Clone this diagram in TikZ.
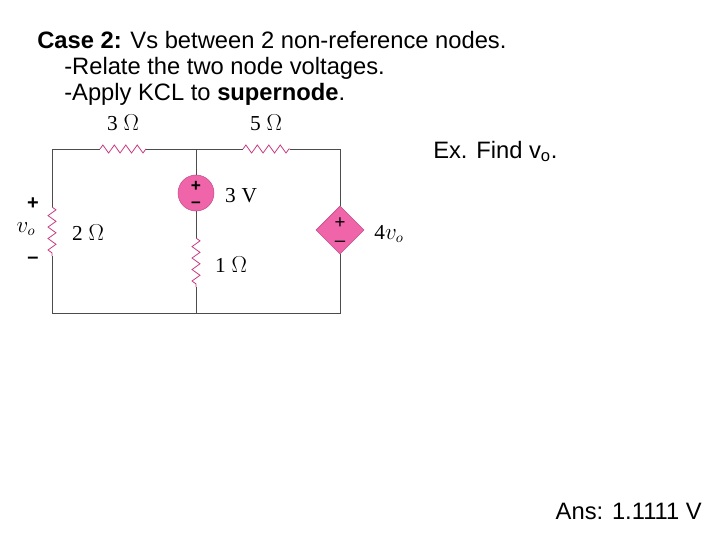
\documentclass[tikz,border=0pt]{standalone}
\usepackage{fontspec}
\setmainfont{Liberation Sans}
\newfontfamily\circfont{Liberation Serif}
\usetikzlibrary{decorations.pathmorphing,shapes.geometric}
\definecolor{pinkfill}{RGB}{240,100,170}
\definecolor{resred}{RGB}{200,60,130}
\begin{document}
\begin{tikzpicture}[x=0.75pt,y=-0.75pt,
    wire/.style={draw=black!70, line width=0.6pt},
    res/.style={draw=resred, line width=0.6pt, decorate,
        decoration={zigzag, amplitude=3pt, segment length=8.6pt}},
    lbl/.style={font=\circfont\fontsize{16}{18}\selectfont, inner sep=1pt},
    sign/.style={font=\bfseries\fontsize{15}{15}\selectfont, inner sep=0pt, text height=1.2ex, text depth=0pt},
    txt/.style={font=\fontsize{17.8}{20}\selectfont, anchor=base west, inner sep=0pt}]
    \useasboundingbox (0,0) rectangle (720,540);
    % texts
    \node[txt] (title) at (37,48) {\textbf{Case 2:} Vs between 2 non-reference nodes.};
    \node[txt] (line1) at (64,74) {-Relate the two node voltages.};
    \node[txt] (line2) at (64,100) {-Apply KCL to \textbf{supernode}.};
    \node[txt] (ex) at (433,158) {Ex. Find v\textsubscript{o}.};
    \node[txt, anchor=base east] (ans) at (702,519) {Ans: 1.1111 V};
    % circuit corners
    \coordinate (tl) at (52,149);
    \coordinate (tm) at (196,149);
    \coordinate (tr) at (340,149);
    \coordinate (bl) at (52,313);
    \coordinate (bm) at (196,313);
    \coordinate (br) at (340,313);
    % resistor ends
    \coordinate (r3a) at (100,149); \coordinate (r3b) at (146,149);
    \coordinate (r5a) at (243,149); \coordinate (r5b) at (290,149);
    \coordinate (r2a) at (52,207);  \coordinate (r2b) at (52,256);
    \coordinate (r1a) at (196,238); \coordinate (r1b) at (196,287);
    % sources
    \node[circle, fill=pinkfill, draw=pinkfill!80!black, minimum size=36*0.75pt, inner sep=0pt] (vs) at (196,193) {};
    \node[sign, font=\bfseries\fontsize{13}{13}\selectfont] at (196,187) {+};
    \node[sign, font=\bfseries\fontsize{13}{13}\selectfont] at (196,203) {--};
    \node[diamond, fill=pinkfill, draw=pinkfill!80!black, minimum size=48*0.75pt, inner sep=0pt] (dep) at (340,230) {};
    \node[sign, font=\fontsize{14}{14}\selectfont] at (340,224) {+};
    \node[sign, font=\fontsize{14}{14}\selectfont] at (340,242) {--};
    % wires
    \draw[wire] (r2a) -- (tl) -- (r3a);
    \draw[wire] (r3b) -- (r5a);
    \draw[wire] (r5b) -- (tr) -- (dep.north);
    \draw[wire] (tm) -- (vs.north);
    \draw[wire] (vs.south) -- (r1a);
    \draw[wire] (r2b) -- (bl) -- (br) -- (dep.south);
    \draw[wire] (r1b) -- (bm);
    % resistors
    \draw[res] (r3a) -- (r3b);
    \draw[res] (r5a) -- (r5b);
    \draw[res] (r2a) -- (r2b);
    \draw[res] (r1a) -- (r1b);
    % labels
    \node[lbl] at (123,123) {3\;$\Omega$};
    \node[lbl] at (266,123) {5\;$\Omega$};
    \node[lbl] at (88,233) {2\;$\Omega$};
    \node[lbl] at (231,265) {1\;$\Omega$};
    \node[lbl] at (241,196) {3\;V};
    \node[lbl] at (389,234) {4$v_o$};
    \node[lbl] at (26,229) {$v_o$};
    \node[sign] at (33,205) {+};
    \node[sign] at (33,259) {--};
\end{tikzpicture}
\end{document}
